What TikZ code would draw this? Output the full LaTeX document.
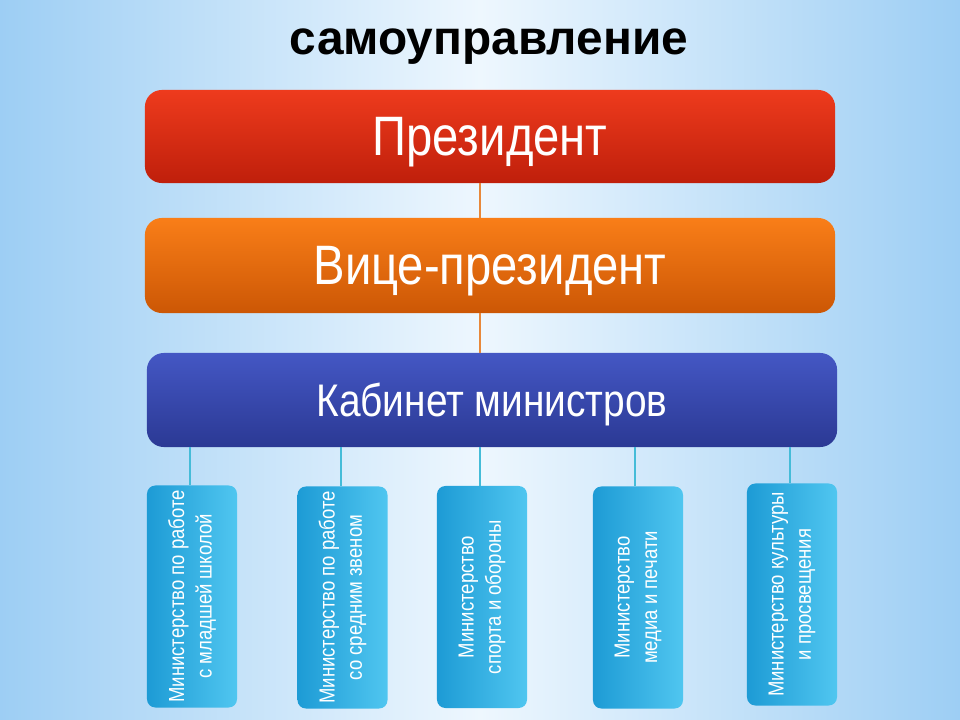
\documentclass[tikz,border=0pt]{standalone}
\usepackage{fontspec}
\setmainfont{Liberation Sans}[FakeStretch=0.85]
\newfontfamily\titlefont{Liberation Sans}
\usetikzlibrary{positioning}
\definecolor{bgside}{HTML}{9DCEF4}
\definecolor{bgmid}{HTML}{EEF7FE}
\definecolor{redtop}{HTML}{EE3B1D}
\definecolor{redbot}{HTML}{BF1F0B}
\definecolor{orangetop}{HTML}{F97E18}
\definecolor{orangebot}{HTML}{CC5705}
\definecolor{bluetop}{HTML}{4457C4}
\definecolor{bluebot}{HTML}{2B3994}
\definecolor{mindark}{HTML}{1D9BD5}
\definecolor{minlight}{HTML}{50C6F0}
\definecolor{linkteal}{HTML}{45BCD8}
\definecolor{linkorange}{HTML}{E8883A}
\tikzset{
  bigbox/.style={minimum width=17.25cm, minimum height=2.35cm, rounded corners=12pt,
    text=white, inner sep=0pt, text depth=0pt},
  minbox/.style={minimum width=2.25cm, minimum height=5.55cm, rounded corners=6pt,
    left color=mindark, right color=minlight, inner sep=0pt},
  mintext/.style={rotate=90, text=white, align=center, font=\fontsize{15.5}{19.5}\selectfont},
  link/.style={line width=1.8pt, linkteal}
}
\begin{document}
\begin{tikzpicture}[x=0.025cm, y=-0.025cm]
	\fill[left color=bgside, right color=bgside, middle color=bgmid] (0,0) rectangle (960,720);
	\useasboundingbox (0,0) rectangle (960,720);
	
	\node[anchor=base, font=\titlefont\bfseries\fontsize{34}{40}\selectfont] (title) at (489,55) {самоуправление};
	
	\node[bigbox, top color=redtop, bottom color=redbot, minimum height=2.325cm,
		font=\fontsize{39.5}{44}\selectfont] (pres) at (490,136.5) {Президент};
	\node[bigbox, top color=orangetop, bottom color=orangebot, minimum height=2.375cm,
		font=\fontsize{39.5}{44}\selectfont] (vice) at (490,265.5) {Вице-президент};
	\node[bigbox, top color=bluetop, bottom color=bluebot,
		font=\fontsize{32.5}{38}\selectfont] (cab) at (492,400) {Кабинет министров};
	
	\draw[line width=1.8pt, linkorange] (pres.south -| 480,0) -- (vice.north -| 480,0);
	\draw[line width=1.8pt, linkorange] (vice.south -| 480,0) -- (cab.north -| 480,0);
	
	% ministries
	\node[minbox] (m1) at (192,596.5) {};
	\node[minbox] (m2) at (342.5,597.5) {};
	\node[minbox] (m3) at (482,597) {};
	\node[minbox] (m4) at (638,597.5) {};
	\node[minbox] (m5) at (792,594.5) {};
	
	\node[mintext] at (m1) {Министерство по работе\\ с младшей школой};
	\node[mintext] at (m2) {Министерство по работе\\ со средним звеном};
	\node[mintext] at (m3) {Министерство\\ спорта и обороны};
	\node[mintext] at (m4) {Министерство\\ медиа и печати};
	\node[mintext] at (m5) {Министерство культуры\\ и просвещения};
	
	\foreach \m/\x in {m1/190, m2/341, m3/480, m4/635, m5/790}
		\draw[link] (cab.south -| \x,0) -- (\m.north -| \x,0);
	
\end{tikzpicture}
\end{document}
